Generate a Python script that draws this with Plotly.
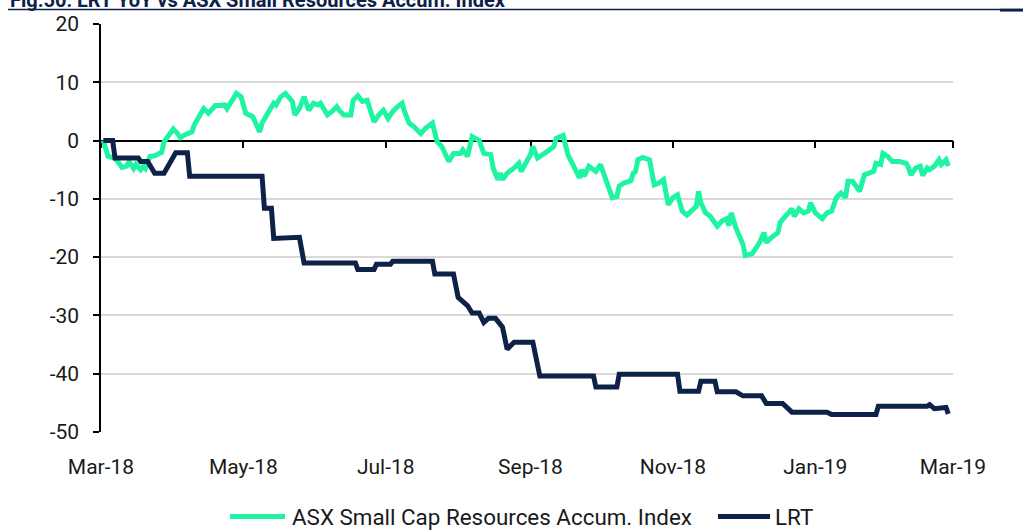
import plotly.graph_objects as go

# ---------------- data ----------------
asx_dates = [
    "2018-03-02", "2018-03-04", "2018-03-07", "2018-03-10", "2018-03-12", "2018-03-13", "2018-03-15",
    "2018-03-16", "2018-03-18", "2018-03-19", "2018-03-20", "2018-03-22", "2018-03-24", "2018-03-27",
    "2018-03-28", "2018-03-30", "2018-04-01", "2018-04-03", "2018-04-04", "2018-04-06", "2018-04-09",
    "2018-04-10", "2018-04-12", "2018-04-14", "2018-04-16", "2018-04-19", "2018-04-21", "2018-04-23",
    "2018-04-24", "2018-04-26", "2018-04-28", "2018-04-30", "2018-05-02", "2018-05-05", "2018-05-08",
    "2018-05-09", "2018-05-11", "2018-05-12", "2018-05-14", "2018-05-15", "2018-05-17", "2018-05-19",
    "2018-05-22", "2018-05-23", "2018-05-25", "2018-05-27", "2018-05-29", "2018-05-31", "2018-06-02",
    "2018-06-03", "2018-06-06", "2018-06-08", "2018-06-10", "2018-06-11", "2018-06-13", "2018-06-16",
    "2018-06-17", "2018-06-19", "2018-06-21", "2018-06-23", "2018-06-24", "2018-06-26", "2018-06-28",
    "2018-06-30", "2018-07-02", "2018-07-04", "2018-07-06", "2018-07-08", "2018-07-09", "2018-07-11",
    "2018-07-13", "2018-07-16", "2018-07-18", "2018-07-21", "2018-07-23", "2018-07-25", "2018-07-28",
    "2018-07-30", "2018-08-02", "2018-08-03", "2018-08-05", "2018-08-07", "2018-08-10", "2018-08-12",
    "2018-08-15", "2018-08-16", "2018-08-18", "2018-08-19", "2018-08-20", "2018-08-22", "2018-08-25",
    "2018-08-27", "2018-08-28", "2018-08-30", "2018-09-01", "2018-09-02", "2018-09-04", "2018-09-07",
    "2018-09-09", "2018-09-11", "2018-09-12", "2018-09-15", "2018-09-17", "2018-09-19", "2018-09-22",
    "2018-09-23", "2018-09-24", "2018-09-26", "2018-09-28", "2018-09-29", "2018-10-01", "2018-10-04",
    "2018-10-06", "2018-10-08", "2018-10-09", "2018-10-11", "2018-10-14", "2018-10-15", "2018-10-16",
    "2018-10-17", "2018-10-19", "2018-10-22", "2018-10-24", "2018-10-26", "2018-10-28", "2018-10-30",
    "2018-11-01", "2018-11-03", "2018-11-05", "2018-11-07", "2018-11-09", "2018-11-11", "2018-11-12",
    "2018-11-13", "2018-11-15", "2018-11-17", "2018-11-20", "2018-11-22", "2018-11-24", "2018-11-25",
    "2018-11-26", "2018-11-28", "2018-12-01", "2018-12-02", "2018-12-05", "2018-12-08", "2018-12-10",
    "2018-12-11", "2018-12-13", "2018-12-16", "2018-12-17", "2018-12-19", "2018-12-21", "2018-12-22",
    "2018-12-23", "2018-12-25", "2018-12-27", "2018-12-29", "2018-12-30", "2019-01-01", "2019-01-04",
    "2019-01-06", "2019-01-08", "2019-01-10", "2019-01-12", "2019-01-14", "2019-01-15", "2019-01-17",
    "2019-01-20", "2019-01-22", "2019-01-26", "2019-01-27", "2019-01-29", "2019-01-30", "2019-02-01",
    "2019-02-03", "2019-02-06", "2019-02-09", "2019-02-10", "2019-02-11", "2019-02-13", "2019-02-15",
    "2019-02-16", "2019-02-18", "2019-02-19", "2019-02-21", "2019-02-23", "2019-02-24", "2019-02-26",
    "2019-02-27",
]
asx_values = [
    0.0, -2.7, -3.0, -4.6, -4.4, -3.6, -4.8,
    -4.1, -5.0, -4.4, -4.8, -2.7, -2.6, -2.0,
    -0.2, 1.0, 2.0, 1.1, 0.5, 1.0, 1.5,
    2.7, 4.1, 5.5, 4.7, 6.0, 6.0, 6.1,
    5.5, 6.7, 8.1, 7.5, 4.7, 4.1, 1.5,
    3.0, 4.4, 4.7, 6.4, 6.1, 7.5, 8.1,
    6.7, 4.4, 5.5, 7.5, 5.2, 6.4, 6.1,
    6.4, 4.4, 5.0, 5.8, 5.2, 4.4, 4.4,
    6.9, 7.7, 6.7, 6.9, 5.8, 3.2, 4.4,
    5.2, 3.8, 5.0, 5.8, 6.4, 5.0, 3.0,
    2.4, 1.2, 2.1, 3.0, -0.2, -1.0, -3.6,
    -2.2, -2.2, -1.6, -2.7, 0.7, 0.0, -2.2,
    -2.4, -4.7, -6.7, -5.6, -6.7, -5.6, -4.7,
    -3.9, -5.3, -3.6, -2.4, -1.0, -3.0, -2.2,
    -1.6, -1.0, 0.4, 0.9, -2.4, -4.1, -6.4,
    -5.0, -6.1, -4.4, -5.0, -5.3, -4.1, -7.9,
    -9.8, -9.6, -7.8, -7.3, -6.9, -5.6, -5.3,
    -3.3, -2.9, -3.3, -7.6, -7.3, -6.7, -11.0,
    -9.8, -9.3, -12.1, -12.8, -12.1, -11.3, -8.7,
    -10.7, -12.4, -13.0, -14.7, -13.8, -13.4, -14.6,
    -12.4, -15.0, -17.8, -19.7, -19.4, -17.6, -15.8,
    -17.5, -16.7, -15.8, -14.0, -13.0, -12.0, -11.7,
    -13.0, -11.7, -12.4, -12.1, -10.7, -12.4, -13.4,
    -12.4, -12.1, -9.8, -9.0, -9.8, -7.0, -7.0,
    -8.7, -5.9, -5.3, -3.9, -4.1, -2.2, -2.7,
    -3.6, -3.6, -3.9, -4.7, -5.9, -4.7, -4.4,
    -6.0, -4.7, -5.0, -4.4, -3.3, -4.1, -3.3,
    -4.4,
]

lrt_dates = [
    "2018-03-02", "2018-03-06", "2018-03-07", "2018-03-17", "2018-03-18", "2018-03-21", "2018-03-24",
    "2018-03-28", "2018-04-02", "2018-04-07", "2018-04-08", "2018-05-09", "2018-05-10", "2018-05-13",
    "2018-05-14", "2018-05-24", "2018-05-25", "2018-05-27", "2018-06-18", "2018-06-19", "2018-06-26",
    "2018-06-27", "2018-07-03", "2018-07-04", "2018-07-21", "2018-07-22", "2018-07-30", "2018-08-01",
    "2018-08-03", "2018-08-05", "2018-08-07", "2018-08-10", "2018-08-12", "2018-08-14", "2018-08-17",
    "2018-08-20", "2018-08-22", "2018-08-25", "2018-09-02", "2018-09-04", "2018-09-05", "2018-09-28",
    "2018-09-29", "2018-10-08", "2018-10-09", "2018-11-03", "2018-11-04", "2018-11-12", "2018-11-13",
    "2018-11-19", "2018-11-20", "2018-11-28", "2018-12-01", "2018-12-09", "2018-12-11", "2018-12-18",
    "2018-12-22", "2019-01-06", "2019-01-08", "2019-01-27", "2019-01-28", "2019-02-18", "2019-02-19",
    "2019-02-21", "2019-02-24", "2019-02-26", "2019-02-27",
]
lrt_values = [
    0.0, 0.0, -3.0, -3.0, -3.6, -3.6, -5.6,
    -5.6, -2.1, -2.1, -6.1, -6.1, -11.6, -11.6,
    -16.8, -16.8, -16.6, -21.0, -21.0, -22.1, -22.1,
    -21.2, -21.2, -20.7, -20.7, -22.9, -22.9, -26.9,
    -27.5, -28.3, -29.6, -29.6, -31.2, -30.5, -30.5,
    -32.0, -35.8, -34.6, -34.6, -38.6, -40.4, -40.4,
    -42.3, -42.3, -40.1, -40.1, -43.0, -43.0, -41.3,
    -41.3, -43.1, -43.1, -43.8, -43.8, -45.1, -45.1,
    -46.6, -46.6, -47.0, -47.0, -45.6, -45.6, -45.3,
    -46.0, -46.0, -45.8, -46.9,
]

series_names = ["ASX Small Cap Resources Accum. Index", "LRT"]
title_text = "Fig.50: LRT YoY vs ASX Small Resources Accum. Index"
y_ticks = [20, 10, 0, -10, -20, -30, -40, -50]
y_ticklabels = ["20", "10", "0", "-10", "-20", "-30", "-40", "-50"]
x_ticks = ["2018-03-01", "2018-05-01", "2018-07-01", "2018-09-01",
           "2018-11-01", "2019-01-01", "2019-03-01"]
x_ticklabels = ["Mar-18", "May-18", "Jul-18", "Sep-18", "Nov-18", "Jan-19", "Mar-19"]

# ---------------- style ----------------
GREEN = "#1ff4a2"
NAVY = "#0e2148"
FONT = "Roboto"
FS = 21
LEG_FS = 22.4

fig = go.Figure()
fig.add_trace(go.Scatter(x=asx_dates, y=asx_values, mode="lines", name=series_names[0],
                         line=dict(color=GREEN, width=5), showlegend=False))
fig.add_trace(go.Scatter(x=lrt_dates, y=lrt_values, mode="lines", name=series_names[1],
                         line=dict(color=NAVY, width=5), showlegend=False))
# helper (invisible) trace so that the zero-crossing axis is rendered
fig.add_trace(go.Scatter(x=[x_ticks[0]], y=[0], xaxis="x2", mode="markers",
                         marker=dict(opacity=0), hoverinfo="skip", showlegend=False))

xrange = [x_ticks[0], x_ticks[-1]]
fig.update_layout(
    width=1023, height=530,
    margin=dict(l=101, r=70, t=22, b=98),
    paper_bgcolor="white", plot_bgcolor="white",
    font=dict(family=FONT, size=FS, color="#1a1a1a"),
    xaxis=dict(range=xrange, tickvals=x_ticks, ticktext=x_ticklabels,
               showline=False, showgrid=False, zeroline=False, ticks="",
               ticklabelstandoff=20),
    xaxis2=dict(range=xrange, overlaying="x", anchor="free",
                position=(0 - y_ticks[-1]) / (y_ticks[0] - y_ticks[-1]),
                tickvals=x_ticks, showticklabels=False, showgrid=False, zeroline=False,
                showline=True, linecolor="black", linewidth=1.5,
                ticks="outside", ticklen=7, tickwidth=1.5, tickcolor="black",
                layer="below traces"),
    yaxis=dict(range=[y_ticks[-1], y_ticks[0]], tickvals=y_ticks, ticktext=y_ticklabels,
               showgrid=True, gridcolor="#d9d9d9", gridwidth=2, zeroline=False,
               showline=True, linecolor="black", linewidth=1.5,
               ticks="outside", ticklen=6, tickwidth=1.5, tickcolor="black",
               ticklabelstandoff=10),
    hovermode=False,
)

# title (partly above the page, as in the reference) and its rule
fig.add_annotation(text="<b>" + title_text + "</b>", xref="paper", yref="paper",
                   x=(8 - 101) / 852, y=(432 - 12) / 410, xanchor="left", yanchor="bottom",
                   showarrow=False, font=dict(family=FONT, size=20, color=NAVY))
fig.add_shape(type="line", xref="paper", yref="paper",
              x0=(8 - 101) / 852, x1=(1000 - 101) / 852, y0=(432 - 7.5) / 410, y1=(432 - 7.5) / 410,
              line=dict(color=NAVY, width=1.5))
fig.add_shape(type="line", xref="paper", yref="paper",
              x0=(1000 - 101) / 852, x1=(1024 - 101) / 852, y0=(432 - 8) / 410, y1=(432 - 8) / 410,
              line=dict(color=NAVY, width=3))

# legend drawn by hand (long line keys as in the reference)
leg_y = (432 - 517) / 410
legend_items = [(230, 285, 290, GREEN, series_names[0]), (718, 770, 773, NAVY, series_names[1])]
for x0, x1, xt, col, label in legend_items:
    fig.add_shape(type="line", xref="paper", yref="paper",
                  x0=(x0 - 101) / 852, x1=(x1 - 101) / 852, y0=leg_y, y1=leg_y,
                  line=dict(color=col, width=5))
    fig.add_annotation(text=label, xref="paper", yref="paper", x=(xt - 101) / 852, y=leg_y,
                       xanchor="left", yanchor="middle", showarrow=False,
                       font=dict(family=FONT, size=LEG_FS, color="#1a1a1a"))

fig.write_html("out.html", config={"displayModeBar": False},
               post_script="document.body.style.margin='0';document.body.style.overflow='hidden';")
